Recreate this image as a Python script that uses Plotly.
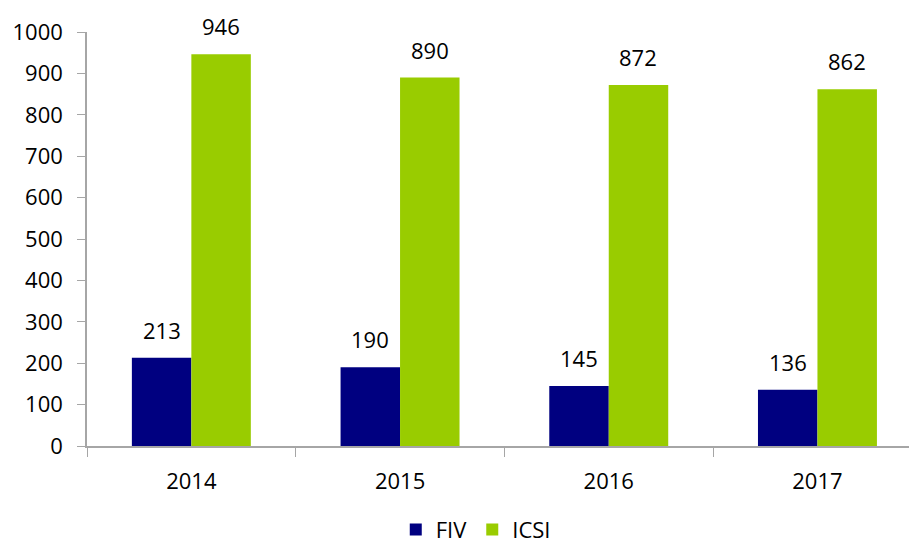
import plotly.graph_objects as go

years = ["2014", "2015", "2016", "2017"]
fiv = [213, 190, 145, 136]
icsi = [946, 890, 872, 862]
series_names = ["FIV", "ICSI"]
colors = ["#000080", "#99CC00"]
y_ticks = [0, 100, 200, 300, 400, 500, 600, 700, 800, 900, 1000]

FONT = "Open Sans"
fig = go.Figure()
for name, vals, col in zip(series_names, [fiv, icsi], colors):
    fig.add_trace(go.Bar(x=years, y=vals, name=name, marker=dict(color=col, line=dict(width=0))))

bar_px = 59.4
for i, vals in enumerate([fiv, icsi]):
    shift = (-0.5 if i == 0 else 0.5) * bar_px
    for idx, v in enumerate(vals):
        fig.add_annotation(x=idx, y=v, text=str(v), showarrow=False, xref="x", yref="y",
                           yanchor="bottom", yshift=11, xshift=shift,
                           font=dict(family=FONT, size=22, color="#000000"))

fig.update_layout(
    width=909, height=537,
    margin=dict(l=79, r=0, t=24, b=99, autoexpand=False),
    plot_bgcolor="white", paper_bgcolor="white",
    barmode="group", bargap=0.43, bargroupgap=0,
    font=dict(family=FONT, size=22, color="#000000"),
    showlegend=True,
    legend=dict(orientation="h", x=0.372, xanchor="left", y=-0.202, yanchor="middle",
                font=dict(family=FONT, size=22), traceorder="normal"),
)
fig.update_xaxes(type="category", range=[-0.5, 3.477], showline=True, linecolor="#A6A6A6", linewidth=1.5,
                 ticks="outside", tickson="boundaries", ticklen=9, tickcolor="#A6A6A6",
                 ticklabelstandoff=15, showgrid=False, zeroline=False, automargin=False)
fig.update_yaxes(range=[0, 1000], tickvals=y_ticks, showline=True, linecolor="#A6A6A6", linewidth=1.5,
                 ticks="outside", ticklen=8, tickcolor="#A6A6A6", ticklabelstandoff=10,
                 showgrid=False, zeroline=False, automargin=False)

fig.write_html("out.html")
